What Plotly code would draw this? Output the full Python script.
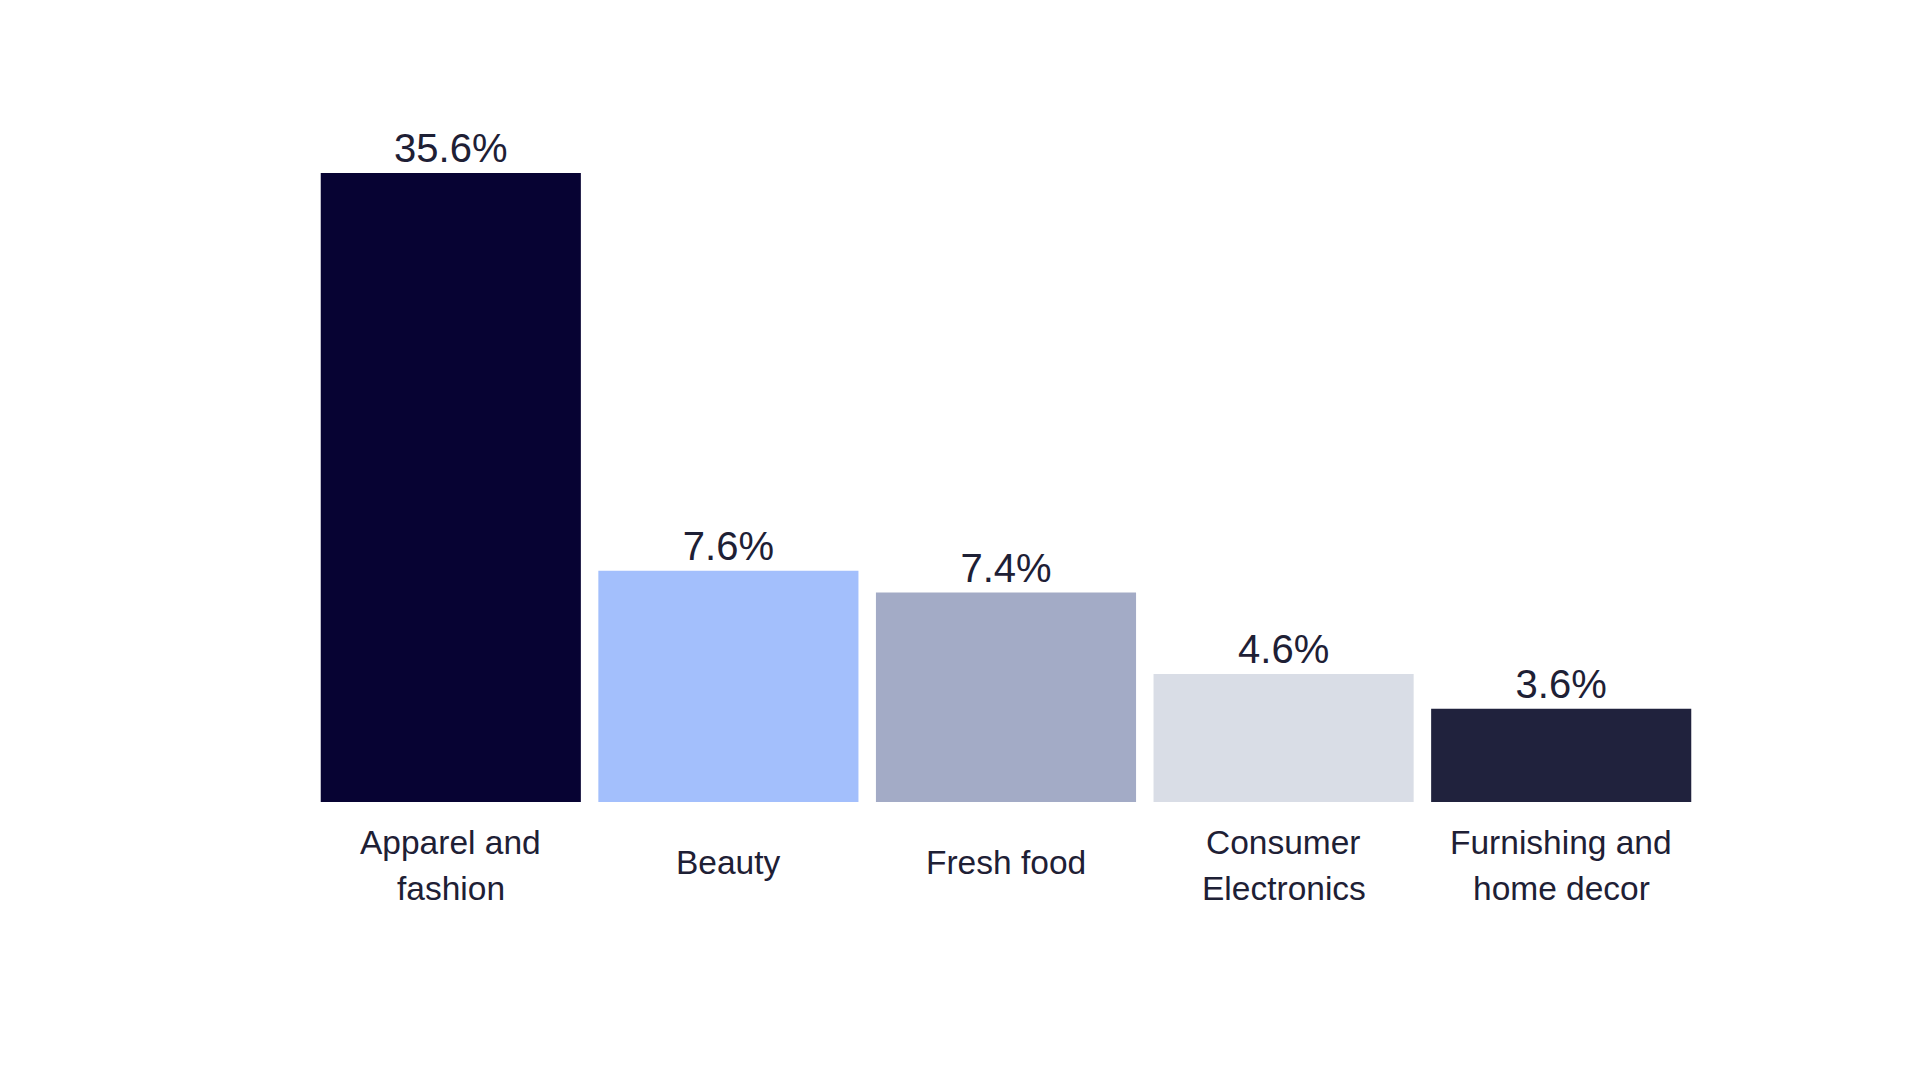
import plotly.graph_objects as go

categories = ["Apparel and<br>fashion", "Beauty", "Fresh food", "Consumer<br>Electronics", "Furnishing and<br>home decor"]
value_labels = ["35.6%", "7.6%", "7.4%", "4.6%", "3.6%"]
# bar heights as drawn in the picture (not proportional to labels)
bar_heights = [35.6, 13.09, 11.85, 7.24, 5.28]
colors = ["#070333", "#a3bffc", "#a3abc6", "#d9dde6", "#20223d"]

TEXT = "#1e2035"
FONT = "Liberation Sans, Arial, sans-serif"

fig = go.Figure()
fig.add_trace(go.Bar(
    x=categories,
    y=bar_heights,
    marker=dict(color=colors, line=dict(width=0)),
    text=value_labels,
    textposition="outside",
    textfont=dict(size=40, color=TEXT, family=FONT),
    cliponaxis=False,
    hoverinfo="skip",
))

# category labels, one annotation per line for wider line spacing
for c in categories:
    lines = c.split("<br>")
    if len(lines) == 1:
        shifts = [-60]
    else:
        shifts = [-40, -86]
    for line, s in zip(lines, shifts):
        fig.add_annotation(
            x=c, xref="x", y=0, yref="paper", yshift=s,
            text=line, showarrow=False, yanchor="middle", xanchor="center",
            font=dict(size=33.5, color=TEXT, family=FONT),
        )

fig.update_layout(
    width=1920, height=1080,
    paper_bgcolor="white", plot_bgcolor="white",
    margin=dict(l=304, r=228, t=72, b=286),
    bargap=0.063,
    showlegend=False,
    xaxis=dict(showticklabels=False, showgrid=False, zeroline=False, showline=False, ticks=""),
    yaxis=dict(range=[0, 40.86], visible=False),
    font=dict(family=FONT, color=TEXT),
)

fig.write_html("out.html")
